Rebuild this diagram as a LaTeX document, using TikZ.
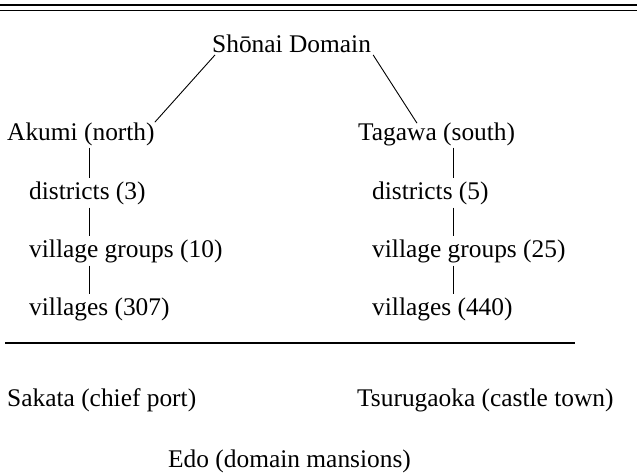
\documentclass[tikz,border=0pt]{standalone}
\usepackage{fontspec}
\setmainfont{Liberation Serif}
\usepackage{tikz}
\tikzset{
    entry/.style={
        inner sep=0pt,
        anchor=base west,
        font=\fontsize{25.4}{30}\selectfont
    },
    link/.style={
        draw=black,
        line width=0.9pt
    },
    stem/.style={
        link,
        shorten <=3pt,
        shorten >=3.5pt
    },
    rule/.style={
        draw=black,
        line width=1.8pt
    }
}

\begin{document}
\begin{tikzpicture}[x=1pt, y=-1pt]
\useasboundingbox (0,0) rectangle (637,474);

% Double rule at the top
\draw[rule, line width=2.2pt] (0,5.3) -- (637,5.3);
\draw[rule, line width=1.1pt] (0,10.3) -- (637,10.3);

% Domain and districts
\node[entry] (shonai) at (212,52) {Shōnai Domain};
\node[entry] (akumi) at (7,140) {Akumi (north)};
\node[entry] (tagawa) at (358,140) {Tagawa (south)};

% Akumi branch
\node[entry] (dist3) at (29,199) {districts (3)};
\node[entry] (grp10) at (29,257) {village groups (10)};
\node[entry] (vil307) at (29,315) {villages (307)};

% Tagawa branch
\node[entry] (dist5) at (372,199) {districts (5)};
\node[entry] (grp25) at (372,257) {village groups (25)};
\node[entry] (vil440) at (372,315) {villages (440)};

% Towns
\node[entry] (sakata) at (7,406.5) {Sakata (chief port)};
\node[entry] (tsuru) at (357,406) {Tsurugaoka (castle town)};
\node[entry] (edo) at (168,467.5) {Edo (domain mansions)};

\coordinate (lstem) at (89.5,0);
\coordinate (rstem) at (453,0);

% Links
\draw[link] ([xshift=3pt,yshift=-2.5pt]shonai.south west) -- (akumi.north east);
\draw[link] ([xshift=2pt,yshift=-2.5pt]shonai.south east) -- ([xshift=59pt,yshift=-1pt]tagawa.north west);

\draw[stem, shorten <=2pt] (akumi.south -| lstem) -- (dist3.north -| lstem);
\draw[stem] (dist3.south -| lstem) -- (grp10.north -| lstem);
\draw[stem] (grp10.south -| lstem) -- (vil307.north -| lstem);

\draw[stem, shorten <=2pt] (tagawa.south -| rstem) -- (dist5.north -| rstem);
\draw[stem] (dist5.south -| rstem) -- (grp25.north -| rstem);
\draw[stem] (grp25.south -| rstem) -- (vil440.north -| rstem);

% Separating rule
\draw[rule] (5,343) -- (575,343);

\end{tikzpicture}
\end{document}
